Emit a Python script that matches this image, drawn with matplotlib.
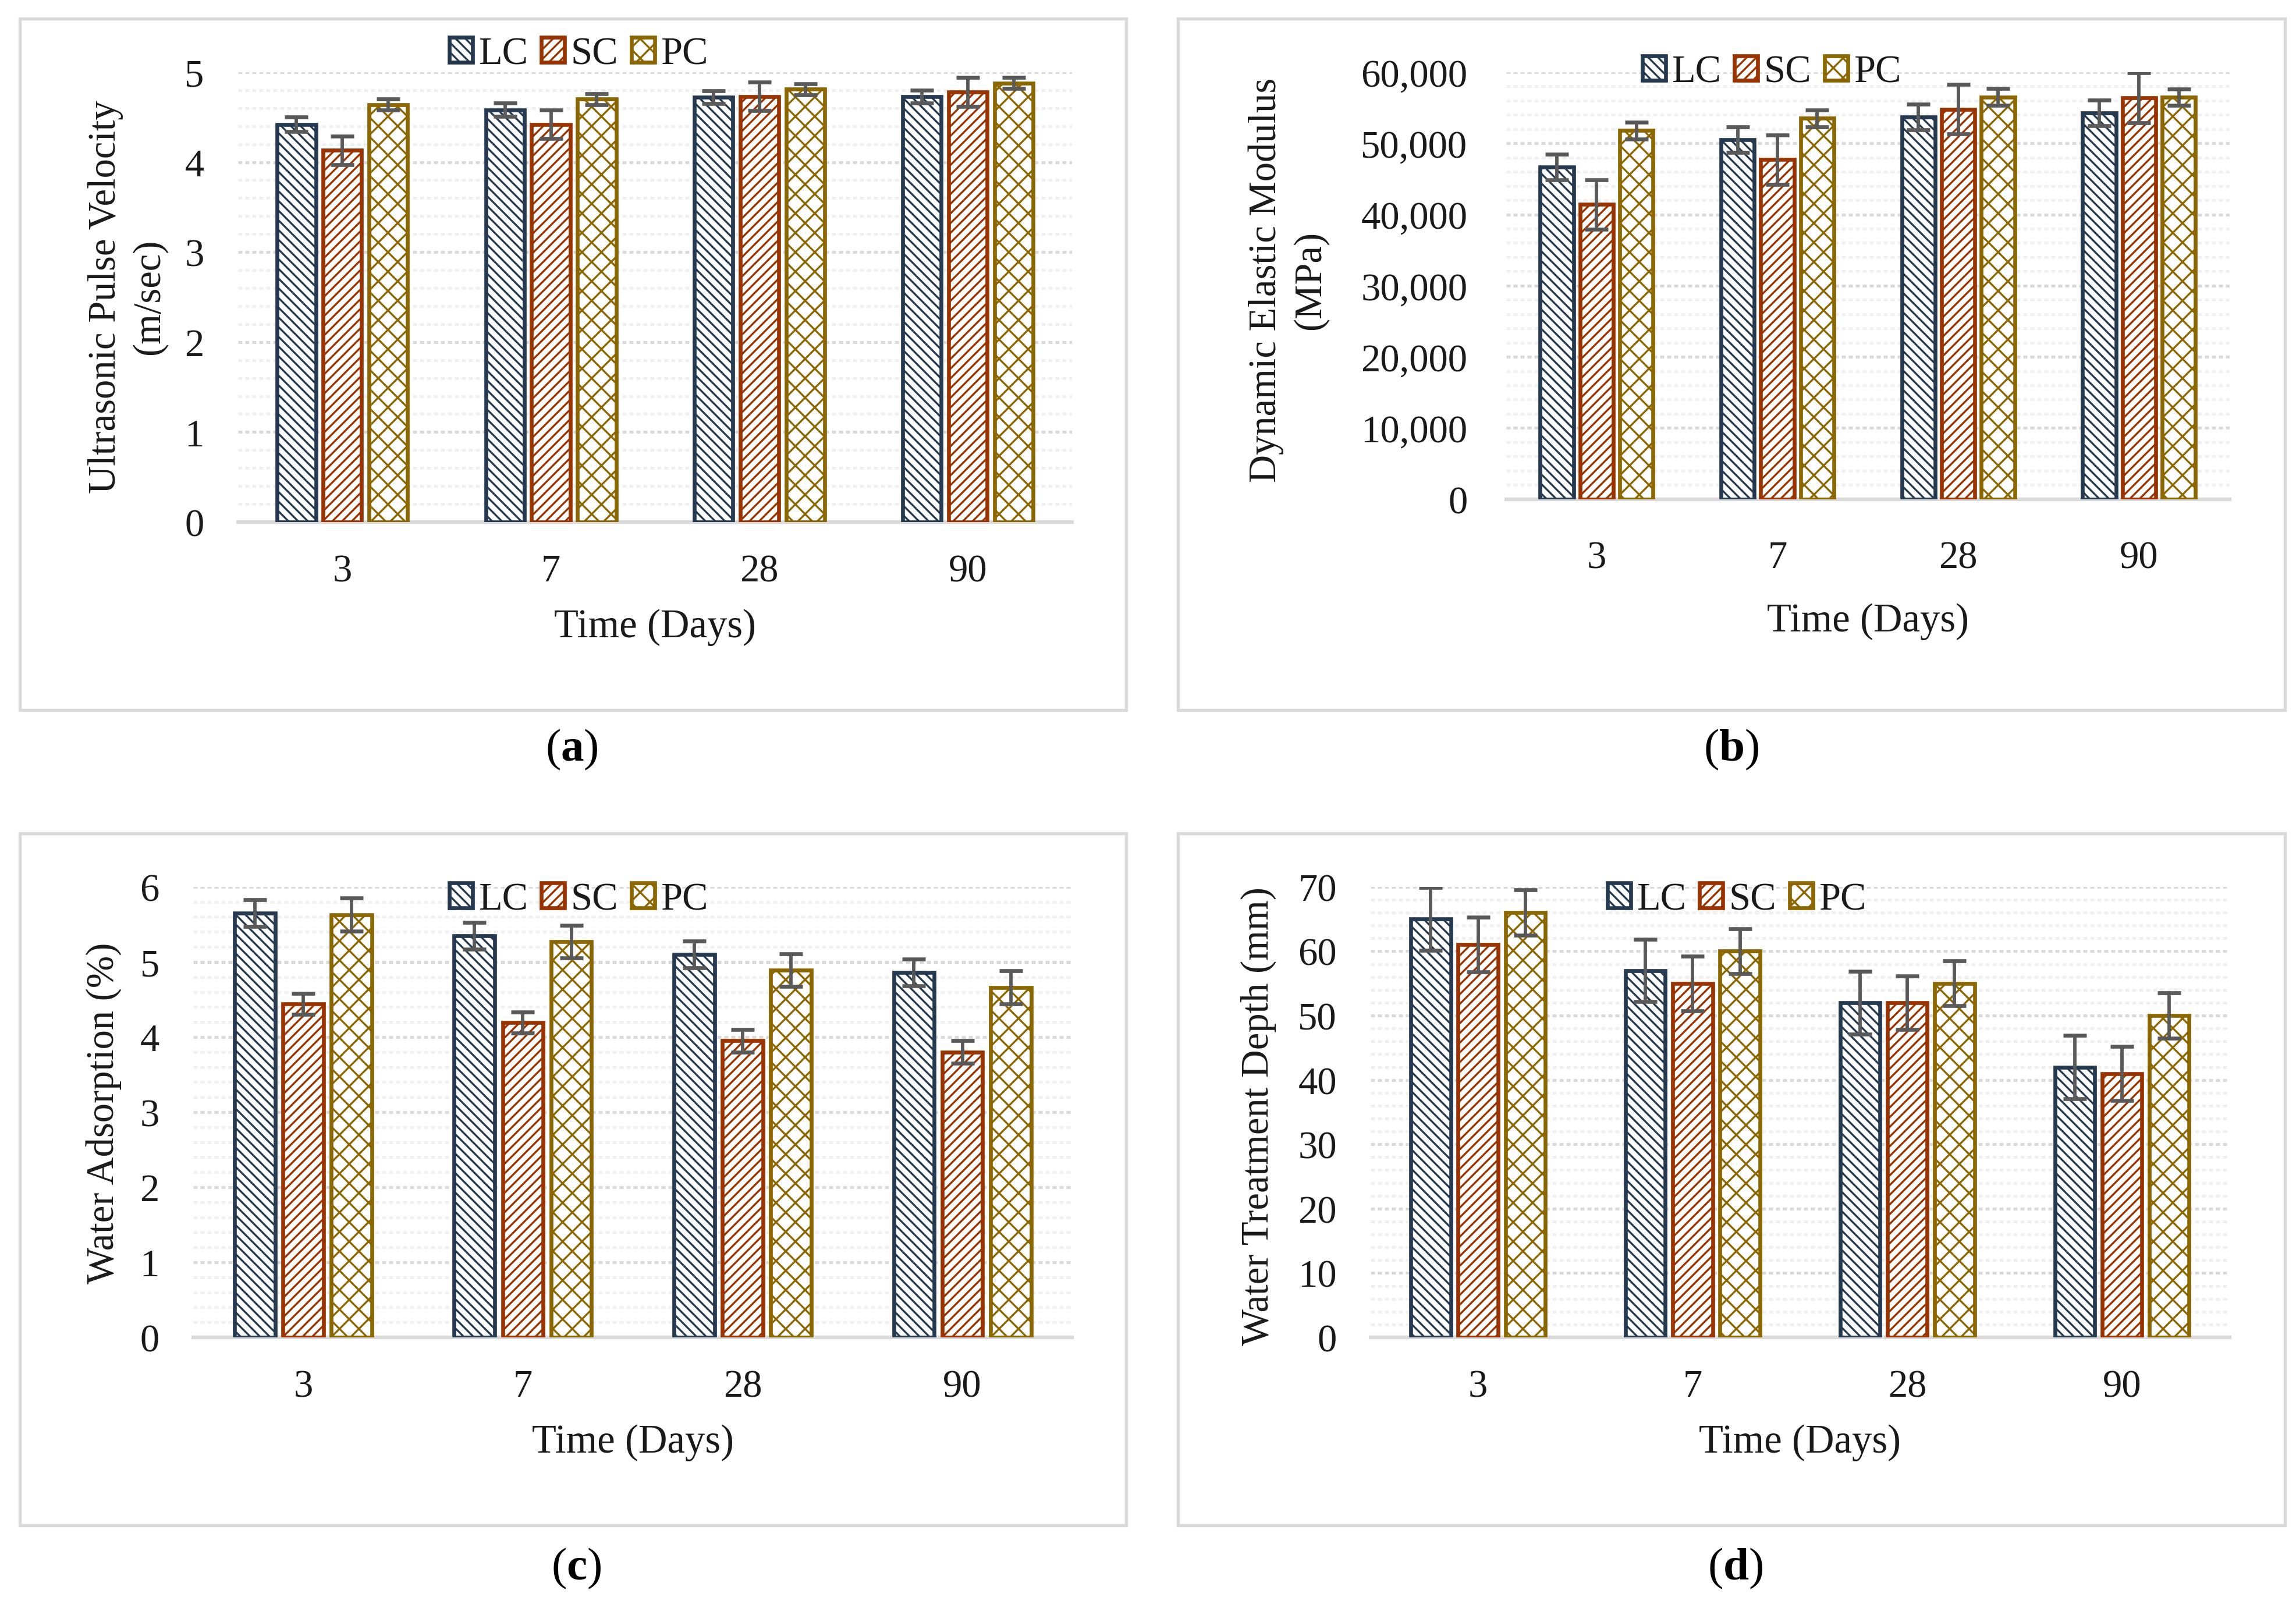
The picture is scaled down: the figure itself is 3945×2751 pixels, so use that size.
"""
Four-panel bar chart: UPV, dynamic modulus, water adsorption, treatment depth.
"""

import matplotlib
matplotlib.use("Agg")
import matplotlib.pyplot as plt
import numpy as np
from matplotlib.patches import Rectangle
from matplotlib.ticker import MultipleLocator, FuncFormatter

# Data
days = ['3', '7', '28', '90']
mixes = ['LC', 'SC', 'PC']

upv_lc = [4.42, 4.58, 4.72, 4.73]
upv_sc = [4.13, 4.42, 4.73, 4.78]
upv_pc = [4.64, 4.70, 4.81, 4.88]
upv_lc_err = [0.08, 0.075, 0.07, 0.07]
upv_sc_err = [0.16, 0.16, 0.16, 0.16]
upv_pc_err = [0.06, 0.06, 0.06, 0.06]

dem_lc = [46700, 50500, 53700, 54300]
dem_sc = [41400, 47700, 54800, 56400]
dem_pc = [51800, 53500, 56500, 56500]
dem_lc_err = [1800, 1800, 1800, 1800]
dem_sc_err = [3500, 3500, 3500, 3500]
dem_pc_err = [1200, 1200, 1200, 1150]

wa_lc = [5.65, 5.35, 5.10, 4.86]
wa_sc = [4.44, 4.19, 3.95, 3.80]
wa_pc = [5.63, 5.27, 4.89, 4.66]
wa_lc_err = [0.18, 0.18, 0.18, 0.18]
wa_sc_err = [0.14, 0.14, 0.15, 0.15]
wa_pc_err = [0.22, 0.22, 0.22, 0.22]

wtd_lc = [65, 57, 52, 42]
wtd_sc = [61, 55, 52, 41]
wtd_pc = [66, 60, 55, 50]
wtd_lc_err = [4.9, 4.85, 4.9, 4.9]
wtd_sc_err = [4.25, 4.25, 4.2, 4.2]
wtd_pc_err = [3.5, 3.5, 3.5, 3.5]

COLORS = ['#253A50', '#993300', '#8C6600']
HATCHES = ['\\' * 6, '/' * 6, 'xxx']
ERR_COLOR = '#595959'
GRID_MAJOR = '#D9D9D9'
GRID_MINOR = '#F0F0F0'
TEXT = '#1A1A1A'

plt.rcParams['font.family'] = ['Liberation Serif', 'DejaVu Serif']
plt.rcParams['mathtext.fontset'] = 'custom'
plt.rcParams['mathtext.rm'] = 'Liberation Serif'
plt.rcParams['mathtext.bf'] = 'Liberation Serif:bold'
plt.rcParams['hatch.linewidth'] = 0.8


def draw_panel(fig, rect, series, errors, ymax, major, minor, fmt, legend_xy, ylabel, ylabel_xy,
               caption, caption_xy, frame, ypad=14, xpad=13, xlabelpad=8):
    """Draw one grouped bar panel with its frame, ylabel, legend and caption."""
    ax = fig.add_axes(rect)
    x = np.arange(len(days))
    pitch = 0.22
    width = 0.185

    handles = []
    for i, (vals, errs) in enumerate(zip(series, errors)):
        pos = x + (i - 1) * pitch
        bars = ax.bar(pos, vals, width, facecolor='white', edgecolor=COLORS[i],
                      hatch=HATCHES[i], linewidth=1.6, zorder=3, label=mixes[i])
        ax.errorbar(pos, vals, yerr=errs, fmt='none', ecolor=ERR_COLOR,
                    elinewidth=1.4, capsize=4.7, capthick=1.6, zorder=4)
        handles.append(bars)

    ax.set_xlim(-0.5, len(days) - 0.5)
    ax.set_ylim(0, ymax)
    ax.set_xticks(x)
    ax.set_xticklabels(days)
    ax.yaxis.set_major_locator(MultipleLocator(major))
    ax.yaxis.set_minor_locator(MultipleLocator(minor))
    ax.yaxis.set_major_formatter(FuncFormatter(fmt))

    # Dotted gridlines, Excel style
    ax.grid(axis='y', which='major', color=GRID_MAJOR, linewidth=1.2, linestyle=(0, (1.4, 1.0)), zorder=0)
    ax.grid(axis='y', which='minor', color=GRID_MINOR, linewidth=1.2, linestyle=(0, (1.4, 1.0)), zorder=0)
    ax.set_axisbelow(True)

    for side in ['top', 'right', 'left']:
        ax.spines[side].set_visible(False)
    ax.spines['bottom'].set_color(GRID_MAJOR)
    ax.spines['bottom'].set_linewidth(1.5)

    ax.tick_params(axis='x', which='both', length=0, pad=xpad, labelsize=16, labelcolor=TEXT)
    ax.tick_params(axis='y', which='both', length=0, pad=ypad, labelsize=16, labelcolor=TEXT)
    ax.set_xlabel('Time (Days)', fontsize=16.5, color=TEXT, labelpad=xlabelpad)

    fig.text(ylabel_xy[0], ylabel_xy[1], ylabel, rotation=90, ha='center', va='center',
             multialignment='center', fontsize=16, color=TEXT, linespacing=1.3)

    fig.legend(handles=handles, loc='center', bbox_to_anchor=legend_xy, ncol=3, frameon=False,
               fontsize=16, handlelength=0.6, handleheight=0.6, handletextpad=0.15,
               columnspacing=0.35, borderpad=0, labelcolor=TEXT)

    fig.text(caption_xy[0], caption_xy[1], caption, ha='center', va='center', fontsize=19, color='black')

    fig.patches.append(Rectangle((frame[0], frame[1]), frame[2] - frame[0], frame[3] - frame[1],
                                 transform=fig.transFigure, fill=False, edgecolor=GRID_MAJOR,
                                 linewidth=1.3, zorder=0))
    return ax


fig = plt.figure(figsize=(13.15, 9.1733), dpi=300)

plain = lambda v, p: f'{v:g}'
comma = lambda v, p: f'{v:,.0f}'

draw_panel(fig, [0.1037, 0.6737, 0.467 - 0.1037, 0.9546 - 0.6737],
           [upv_lc, upv_sc, upv_pc], [upv_lc_err, upv_sc_err, upv_pc_err],
           5, 1, 0.2, plain, (0.252, 0.966),
           'Ultrasonic Pulse Velocity\n(m/sec)', (0.0555, 0.8147),
           r'($\mathbf{a}$)', (0.249, 0.532), (0.0086, 0.5563, 0.4905, 0.988))

draw_panel(fig, [0.656, 0.688, 0.971 - 0.656, 0.9546 - 0.688],
           [dem_lc, dem_sc, dem_pc], [dem_lc_err, dem_sc_err, dem_pc_err],
           60000, 10000, 2000, comma, (0.7717, 0.9546),
           'Dynamic Elastic Modulus\n(MPa)', (0.561, 0.825),
           r'($\mathbf{b}$)', (0.754, 0.532), (0.513, 0.5563, 0.9952, 0.988),
           ypad=16, xpad=17, xlabelpad=11)

draw_panel(fig, [0.0842, 0.1646, 0.467 - 0.0842, 0.4459 - 0.1646],
           [wa_lc, wa_sc, wa_pc], [wa_lc_err, wa_sc_err, wa_pc_err],
           6, 1, 0.2, plain, (0.252, 0.438),
           'Water Adsorption (%)', (0.045, 0.305),
           r'($\mathbf{c}$)', (0.251, 0.0207), (0.0086, 0.0472, 0.4905, 0.4793))

draw_panel(fig, [0.597, 0.1646, 0.971 - 0.597, 0.4459 - 0.1646],
           [wtd_lc, wtd_sc, wtd_pc], [wtd_lc_err, wtd_sc_err, wtd_pc_err],
           70, 10, 2, plain, (0.7565, 0.438),
           'Water Treatment Depth (mm)', (0.548, 0.303),
           r'($\mathbf{d}$)', (0.7557, 0.0207), (0.513, 0.0472, 0.9952, 0.4793))

plt.savefig('out.png', dpi=300)
